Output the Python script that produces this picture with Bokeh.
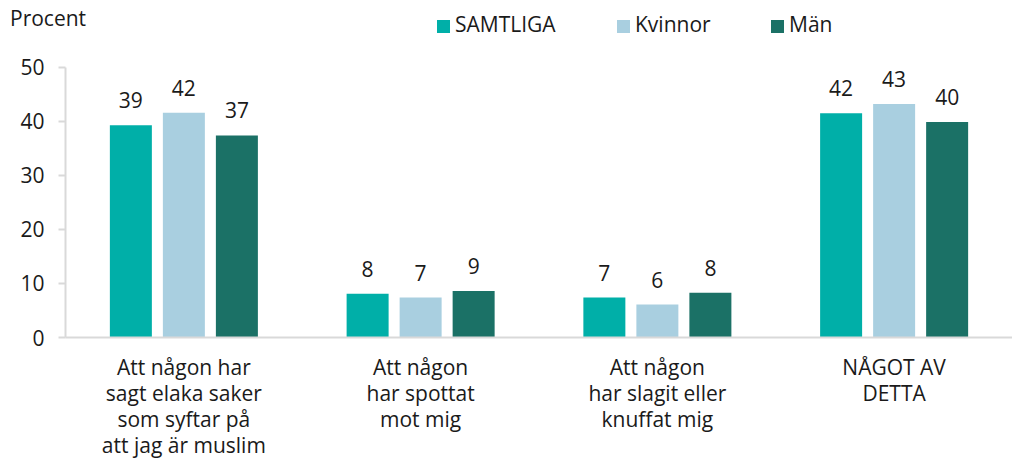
from bokeh.plotting import figure
from bokeh.layouts import column
from bokeh.models import (ColumnDataSource, FactorRange, Range1d, FixedTicker, LabelSet, Div)
from bokeh.core.properties import value
from bokeh.transform import dodge
from bokeh.embed import file_html
from bokeh.resources import INLINE

categories = ["Att någon har\nsagt elaka saker\nsom syftar på\natt jag är muslim",
              "Att någon\nhar spottat\nmot mig",
              "Att någon\nhar slagit eller\nknuffat mig",
              "NÅGOT AV\nDETTA"]
series_names = ["SAMTLIGA", "Kvinnor", "Män"]
samtliga = [39.3, 8.1, 7.4, 41.5]
kvinnor = [41.6, 7.4, 6.1, 43.2]
man = [37.4, 8.6, 8.3, 39.9]
samtliga_lbl = ["39", "8", "7", "42"]
kvinnor_lbl = ["42", "7", "6", "43"]
man_lbl = ["37", "9", "8", "40"]
y_ticks = [0, 10, 20, 30, 40, 50]
unit_label = "Procent"

colors = ["#00AFA8", "#A9CFE0", "#1B7166"]
FONT = "Open Sans"
TXT = "#1a1a1a"

# ---------- header strip: unit label + legend (HTML) ----------
legend_x = [437, 617, 771]
parts = [f'<div style="position:relative;width:1012px;height:40px;font-family:\'{FONT}\';'
         f'font-size:21px;line-height:21px;color:{TXT};white-space:nowrap;">',
         f'<span style="position:absolute;left:10px;top:8px;">{unit_label}</span>']
for n, c, lx in zip(series_names, colors, legend_x):
    parts.append(f'<span style="position:absolute;left:{lx}px;top:20px;width:13px;height:13px;'
                 f'background:{c};"></span>')
    parts.append(f'<span style="position:absolute;left:{lx + 18}px;top:14px;">{n}</span>')
parts.append('</div>')
head = Div(text="".join(parts), width=1012, height=40, margin=0)

# ---------- main chart ----------
src = ColumnDataSource(dict(cat=categories, s=samtliga, k=kvinnor, m=man,
                            sl=samtliga_lbl, kl=kvinnor_lbl, ml=man_lbl))

p = figure(width=1012, height=422, x_range=FactorRange(factors=categories),
           y_range=Range1d(0, 54.96), output_backend="svg", toolbar_location=None,
           min_border_left=65, min_border_right=0, min_border_top=0, min_border_bottom=123)
p.outline_line_color = None
p.xgrid.grid_line_color = None
p.ygrid.grid_line_color = None

pitch = 0.2239
bw = 0.1774
for i, (col, lcol) in enumerate([("s", "sl"), ("k", "kl"), ("m", "ml")]):
    off = (i - 1) * pitch
    p.vbar(x=dodge("cat", off, range=p.x_range), top=col, width=bw, source=src,
           fill_color=colors[i], line_color=None, legend_label=None) if False else \
        p.vbar(x=dodge("cat", off, range=p.x_range), top=col, width=bw, source=src,
               fill_color=colors[i], line_color=None)
    ls = LabelSet(x=dodge("cat", off, range=p.x_range), y=col, text=lcol, source=src,
                  text_align="center", text_baseline="alphabetic", y_offset=17,
                  text_font=value(FONT), text_font_size="21px", text_color=TXT)
    p.add_layout(ls)

p.yaxis.ticker = FixedTicker(ticks=y_ticks)
p.yaxis.bounds = (0, 50)
p.yaxis.axis_line_color = "#d9d9d9"
p.yaxis.axis_line_width = 2
p.yaxis.major_tick_line_color = "#d9d9d9"
p.yaxis.major_tick_line_width = 2
p.yaxis.major_tick_out = 7
p.yaxis.major_tick_in = 0
p.yaxis.minor_tick_line_color = None
p.yaxis.major_label_standoff = 14
p.yaxis.major_label_text_font = FONT
p.yaxis.major_label_text_font_size = "21px"
p.yaxis.major_label_text_color = TXT

p.xaxis.axis_line_color = "#d9d9d9"
p.xaxis.axis_line_width = 2
p.xaxis.major_tick_line_color = None
p.xaxis.minor_tick_line_color = None
p.xaxis.major_label_standoff = 9
p.xaxis.major_label_text_font = FONT
p.xaxis.major_label_text_font_size = "21px"
p.xaxis.major_label_text_color = TXT
p.xaxis.major_label_text_line_height = 0.94

layout = column(head, p, spacing=0)
open("out.html", "w").write(file_html(layout, INLINE))
